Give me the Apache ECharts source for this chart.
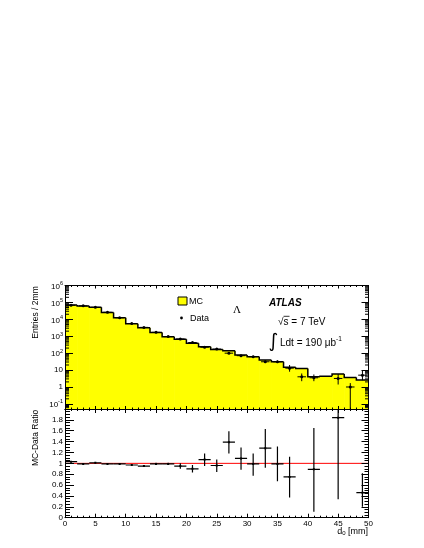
<!DOCTYPE html>
<html><head><meta charset="utf-8">
<script src="https://cdn.jsdelivr.net/npm/echarts@6/dist/echarts.min.js"></script>
<style>html,body{margin:0;padding:0;background:#fff}#c{width:424px;height:548px}</style>
</head><body><div id="c"></div>
<script>
// ---- data ----
const binEdges   = [0,2,4,6,8,10,12,14,16,18,20,22,24,26,28,30,32,34,36,38,40,42,44,46,48,50];
const binCenters = [1,3,5,7,9,11,13,15,17,19,21,23,25,27,29,31,33,35,37,39,41,43,45,47,49];
const mcEntries  = [70000,62000,51500,25700,12300,5500,3170,1690,940,655,382,240,167,138,77,62,39,31,14.5,12.6,4.0,4.3,5.8,3.7,2.6];
const dataEntries= [68000,62600,51000,26000,12400,5670,3340,1700,950,690,425,225,174,100,71,62,31,31,13,4.0,3.5,null,3.2,1.0,5.0];
const dataErrLow = [null,null,null,null,null,null,null,null,null,null,null,null,null,90,63,54,26,26,8,2.2,2.2,null,1.4,0.01,2.5];
const dataErrHigh= [null,null,null,null,null,null,null,null,null,null,null,null,null,111,80,71,37,37,20,6.3,5.5,null,5.8,1.7,9.5];
const ratioValues= [1.03,0.99,1.01,0.99,0.99,0.97,0.95,0.99,0.99,0.95,0.90,1.07,0.96,1.39,1.09,0.99,1.28,0.99,0.75,null,0.89,null,1.84,null,0.46];
const ratioErrLow= [1.02,0.98,1.00,0.98,0.98,0.96,0.94,0.97,0.97,0.90,0.83,0.95,0.84,1.18,0.88,0.77,0.92,0.67,0.37,null,0.11,null,0.34,null,0.20];
const ratioErrHigh=[1.04,1.00,1.02,1.00,1.00,0.98,0.96,1.01,1.01,1.00,0.97,1.18,1.07,1.59,1.29,1.18,1.63,1.31,1.12,null,1.65,null,2.30,null,0.82];
const dRange = [0, 50];
const entriesRange = [0.05, 1e6];
const ratioRange = [0, 2];
const ratioReference = 1;
const xTickStep = 5;
const ratioTickStep = 0.2;

// ---- layout ----
const FONT = '"Liberation Sans", Arial, Helvetica, sans-serif';
const L = 65, W = 303.5;
const T1 = 285.5, H1 = 123.5;
const T2 = 409, H2 = 108.7;

const chart = echarts.init(document.getElementById('c'), null, {renderer:'canvas'});

const histData = mcEntries.map((v,i)=>[binEdges[i], binEdges[i+1], v, i>0 ? mcEntries[i-1] : entriesRange[0]]);
const pointData = [];
binCenters.forEach((c,i)=>{ if (dataEntries[i]!=null) pointData.push([c, dataEntries[i], i]); });
const ratioData = [];
binCenters.forEach((c,i)=>{ if (ratioValues[i]!=null) ratioData.push([c, ratioValues[i], i]); });
// log-axis minor tick positions (2..9 x 10^k)
const minorLog = [];
for (let k=-2;k<6;k++) for (let m=2;m<10;m++){ const v=m*Math.pow(10,k); if (v>entriesRange[0] && v<entriesRange[1]) minorLog.push([dRange[0], v]); }

function renderHist(params, api){
  const x0=api.value(0), x1=api.value(1), v=api.value(2), pv=api.value(3);
  const a=api.coord([x0,v]), b=api.coord([x1,v]), base=api.coord([x0,entriesRange[0]]), pp=api.coord([x0,pv]);
  return {type:'group', children:[
    {type:'rect', shape:{x:a[0], y:a[1], width:b[0]-a[0]+0.6, height:base[1]-a[1]}, style:{fill:'#ffff00'}},
    {type:'polyline', shape:{points:[pp,a,b]}, style:{stroke:'#000', lineWidth:1.5, fill:null}}
  ]};
}
function renderPoints(params, api){
  const c=api.value(0), v=api.value(1), i=api.value(2);
  const p=api.coord([c,v]);
  const ch=[];
  const pl=api.coord([c-0.7,v]), pr=api.coord([c+0.7,v]);
  ch.push({type:'line', shape:{x1:pl[0],y1:pl[1],x2:pr[0],y2:pr[1]}, style:{stroke:'#000',lineWidth:1}});
  if (dataErrLow[i]!=null){
    const lo=api.coord([c,dataErrLow[i]]), hi=api.coord([c,dataErrHigh[i]]);
    ch.push({type:'line', shape:{x1:lo[0],y1:lo[1],x2:hi[0],y2:hi[1]}, style:{stroke:'#000',lineWidth:1}});
  }
  ch.push({type:'circle', shape:{cx:p[0],cy:p[1],r:1.5}, style:{fill:'#000'}});
  return {type:'group', children:ch};
}
function renderRatio(params, api){
  const c=api.value(0), v=api.value(1), i=api.value(2);
  const p=api.coord([c,v]);
  const pl=api.coord([c-1,v]), pr=api.coord([c+1,v]);
  const lo=api.coord([c,ratioErrLow[i]]), hi=api.coord([c,ratioErrHigh[i]]);
  return {type:'group', children:[
    {type:'line', shape:{x1:pl[0],y1:pl[1],x2:pr[0],y2:pr[1]}, style:{stroke:'#000',lineWidth:1.2}},
    {type:'line', shape:{x1:lo[0],y1:lo[1],x2:hi[0],y2:hi[1]}, style:{stroke:'#000',lineWidth:1.2}},
    {type:'rect', shape:{x:p[0]-1,y:p[1]-1,width:2,height:2}, style:{fill:'#000'}}
  ]};
}
function renderMinor(params, api){
  const v=api.value(1);
  const l=api.coord([dRange[0],v]), r=api.coord([dRange[1],v]);
  return {type:'group', children:[
    {type:'line', shape:{x1:l[0],y1:l[1],x2:l[0]+4,y2:l[1]}, style:{stroke:'#000',lineWidth:1}},
    {type:'line', shape:{x1:r[0],y1:r[1],x2:r[0]-3.5,y2:r[1]}, style:{stroke:'#000',lineWidth:1}}
  ]};
}

const blk = {color:'#000', width:1};
function xAx(grid, pos, showLabel, tickLen){
  return {gridIndex:grid, type:'value', min:dRange[0], max:dRange[1], interval:xTickStep, position:pos, z:6,
    axisLine:{show:true, onZero:false, lineStyle:blk},
    axisTick:{show:true, inside:true, length:tickLen, lineStyle:blk},
    minorTick:{show:true, splitNumber:5, length:tickLen/2, lineStyle:blk},
    splitLine:{show:false}, minorSplitLine:{show:false},
    axisLabel:{show:showLabel, margin:2, fontSize:8, fontFamily:FONT, color:'#000', showMinLabel:true, showMaxLabel:true}};
}
function logLabel(v){
  const e=Math.log10(v), r=Math.round(e);
  if (Math.abs(e-r)>1e-6) return '';
  if (r===0) return '{b|1}';
  if (r===1) return '{b|10}';
  return '{b|10}{e|'+(r<0?'-':'')+Math.abs(r)+'}';
}

const option = {
  backgroundColor:'#fff',
  animation:false,
  grid:[{left:L, top:T1, width:W, height:H1, containLabel:false},
        {left:L, top:T2, width:W, height:H2, containLabel:false}],
  xAxis:[xAx(0,'bottom',false,3), xAx(0,'top',false,3), xAx(1,'bottom',true,4), xAx(1,'top',false,4)],
  yAxis:[
    {gridIndex:0, type:'log', logBase:10, min:entriesRange[0], max:entriesRange[1], position:'left', z:6,
     axisLine:{show:true, onZero:false, lineStyle:blk}, axisTick:{show:true, inside:true, length:8, lineStyle:blk},
     splitLine:{show:false},
     axisLabel:{show:true, margin:2, formatter:logLabel, showMinLabel:true, showMaxLabel:true,
       rich:{b:{fontSize:8, fontFamily:FONT, color:'#000', verticalAlign:'bottom'},
             e:{fontSize:5.5, fontFamily:FONT, color:'#000', verticalAlign:'bottom', padding:[0,0,4,0]}}}},
    {gridIndex:0, type:'log', logBase:10, min:entriesRange[0], max:entriesRange[1], position:'right', z:6,
     axisLine:{show:true, onZero:false, lineStyle:blk}, axisTick:{show:true, inside:true, length:7, lineStyle:blk},
     splitLine:{show:false}, axisLabel:{show:false}},
    {gridIndex:1, type:'value', min:ratioRange[0], max:ratioRange[1], interval:ratioTickStep, position:'left', z:6,
     axisLine:{show:true, onZero:false, lineStyle:blk}, axisTick:{show:true, inside:true, length:9, lineStyle:blk},
     minorTick:{show:true, splitNumber:4, length:5, lineStyle:blk}, splitLine:{show:false},
     axisLabel:{show:true, margin:2, fontSize:8, fontFamily:FONT, color:'#000', showMinLabel:true, showMaxLabel:true,
       formatter:v=> v>=ratioRange[1]-1e-9 ? '' : String(+v.toFixed(1))}},
    {gridIndex:1, type:'value', min:ratioRange[0], max:ratioRange[1], interval:ratioTickStep, position:'right', z:6,
     axisLine:{show:true, onZero:false, lineStyle:blk}, axisTick:{show:true, inside:true, length:7, lineStyle:blk},
     minorTick:{show:true, splitNumber:4, length:4, lineStyle:blk}, splitLine:{show:false}, axisLabel:{show:false}}
  ],
  series:[
    {type:'custom', name:'MC', xAxisIndex:0, yAxisIndex:0, data:histData, renderItem:renderHist, clip:true, z:2, encode:{x:[0,1], y:2}, silent:true},
    {type:'custom', name:'minor', xAxisIndex:0, yAxisIndex:0, data:minorLog, renderItem:renderMinor, clip:false, z:7, silent:true},
    {type:'custom', name:'Data', xAxisIndex:0, yAxisIndex:0, data:pointData, renderItem:renderPoints, clip:true, z:4, encode:{x:0, y:1}, silent:true},
    {type:'line', name:'ref', xAxisIndex:2, yAxisIndex:2, data:[[dRange[0],ratioReference],[dRange[1],ratioReference]],
     symbol:'none', lineStyle:{color:'#ff0000', width:1}, z:3, silent:true},
    {type:'custom', name:'Ratio', xAxisIndex:2, yAxisIndex:2, data:ratioData, renderItem:renderRatio, clip:true, z:4, encode:{x:0, y:1}, silent:true}
  ],
  graphic:[
    {type:'rect', shape:{x:178, y:297, width:9, height:8}, style:{fill:'#ffff00', stroke:'#000', lineWidth:1}, z:20},
    {type:'text', x:189, y:301.5, style:{text:'MC', font:'9px '+FONT, fill:'#000', textVerticalAlign:'middle', verticalAlign:'middle'}, z:20},
    {type:'circle', shape:{cx:181.5, cy:318, r:1.4}, style:{fill:'#000'}, z:20},
    {type:'text', x:190, y:318.5, style:{text:'Data', font:'9px '+FONT, fill:'#000', textVerticalAlign:'middle', verticalAlign:'middle'}, z:20},
    {type:'text', x:237, y:310.5, style:{text:'Λ', font:'11px "Liberation Serif", serif', fill:'#000', textAlign:'center', align:'center', textVerticalAlign:'middle', verticalAlign:'middle'}, z:20},
    {type:'text', x:269, y:303.5, style:{text:'ATLAS', font:'italic bold 10px '+FONT, fill:'#000', textVerticalAlign:'middle', verticalAlign:'middle'}, z:20},
    {type:'text', x:278, y:322, style:{text:'√s = 7 TeV', font:'10px '+FONT, fill:'#000', textVerticalAlign:'middle', verticalAlign:'middle'}, z:20},
    {type:'line', shape:{x1:283.5, y1:316.3, x2:289.5, y2:316.3}, style:{stroke:'#000', lineWidth:0.8}, z:20},
    {type:'text', x:273.5, y:342.5, style:{text:'∫', font:'19px "DejaVu Sans", sans-serif', fill:'#000', textAlign:'center', align:'center', textVerticalAlign:'middle', verticalAlign:'middle'}, z:20},
    {type:'text', x:280, y:343, style:{text:'Ldt = 190 μb{s|-1}', font:'10px '+FONT, fill:'#000', textVerticalAlign:'middle', verticalAlign:'middle',
      rich:{s:{fontSize:6.5, fontFamily:FONT, fill:'#000', padding:[0,0,7,0]}}}, z:20},
    {type:'text', x:36, y:312.5, rotation:Math.PI/2, style:{text:'Entries / 2mm', font:'8.5px '+FONT, fill:'#000', textAlign:'center', align:'center', textVerticalAlign:'middle', verticalAlign:'middle'}, z:20},
    {type:'text', x:36, y:438, rotation:Math.PI/2, style:{text:'MC-Data Ratio', font:'8.5px '+FONT, fill:'#000', textAlign:'center', align:'center', textVerticalAlign:'middle', verticalAlign:'middle'}, z:20},
    {type:'text', x:368, y:531.5, style:{text:'d{s|0} [mm]', font:'9px '+FONT, fill:'#000', textAlign:'right', align:'right', textVerticalAlign:'middle', verticalAlign:'middle',
      rich:{s:{fontSize:6, fontFamily:FONT, fill:'#000', padding:[3,0,0,0]}}}, z:20}
  ]
};
chart.setOption(option);
</script></body></html>
